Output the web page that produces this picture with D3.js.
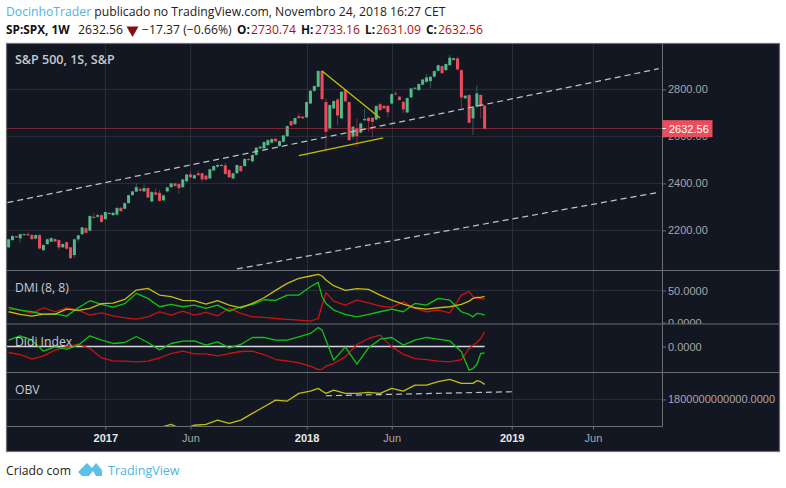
<!DOCTYPE html>
<html><head><meta charset="utf-8">
<script src="https://cdn.jsdelivr.net/npm/d3@7/dist/d3.min.js"></script>
<style>
html,body{margin:0;padding:0;background:#fff}
svg{display:block}
text{font-family:"Open Sans",sans-serif}
.ax text{font-family:"Liberation Sans",Arial,sans-serif;font-size:11px;fill:#a5a7ad}
</style></head><body><div id="c"></div>
<script>
const opens=[2128,2159,2175,2166,2182,2184,2180,2165,2180,2116,2142,2152,2163,2159,2128,2150,2128,2095,2162,2184,2209,2199,2258,2258,2265,2248,2271,2265,2267,2296,2292,2316,2350,2365,2376,2366,2380,2323,2362,2360,2328,2366,2384,2400,2397,2384,2409,2438,2421,2443,2443,2433,2421,2455,2471,2477,2477,2457,2421,2443,2474,2474,2504,2494,2521,2549,2549,2563,2573,2590,2559,2577,2601,2665,2652,2686,2684,2681,2740,2794,2811,2878,2746,2634,2719,2757,2677,2797,2746,2599,2634,2616,2669,2679,2679,2672,2737,2730,2730,2740,2783,2769,2747,2702,2766,2803,2797,2820,2832,2835,2854,2879,2899,2882,2903,2925,2932,2882,2762,2776,2677,2726,2776,2730.74];
const closes=[2162,2176,2170,2184,2184,2179,2163,2180,2123,2138,2162,2167,2153,2128,2142,2122,2082,2162,2179,2213,2190,2261,2253,2265,2236,2278,2274,2275,2295,2282,2316,2350,2366,2384,2369,2380,2340,2363,2352,2326,2349,2383,2400,2389,2380,2417,2438,2426,2435,2435,2417,2417,2460,2474,2478,2478,2440,2426,2443,2478,2452,2504,2499,2521,2552,2556,2576,2584,2589,2579,2580,2604,2644,2647,2678,2678,2677,2746,2794,2814,2878,2759,2620,2733,2750,2689,2790,2749,2584,2641,2601,2655,2674,2665,2662,2729,2712,2719,2703,2780,2780,2755,2715,2763,2804,2807,2823,2842,2851,2854,2878,2903,2869,2908,2935,2932,2885,2766,2773,2658,2723,2783,2733,2632.56];
const highs=[2165,2180,2178,2186,2187,2193,2186,2184,2184,2141,2165,2170,2168,2162,2145,2153,2131,2165,2182,2214,2213,2264,2275,2272,2270,2281,2278,2278,2300,2300,2319,2352,2368,2400,2385,2396,2384,2368,2379,2372,2352,2386,2403,2403,2402,2420,2441,2452,2439,2454,2446,2437,2463,2477,2485,2482,2489,2460,2446,2481,2477,2507,2508,2524,2555,2560,2579,2588,2592,2594,2583,2607,2647,2668,2680,2698,2687,2749,2797,2818,2882,2882,2762,2737,2754,2762,2793,2800,2749,2645,2676,2659,2719,2683,2683,2733,2742,2733,2734,2783,2793,2772,2750,2766,2807,2810,2826,2845,2865,2857,2881,2906,2902,2911,2946,2936,2939,2885,2777,2780,2727,2818,2780,2733.16];
const lows=[2125,2155,2168,2148,2178,2176,2160,2162,2119,2112,2138,2150,2150,2116,2125,2118,2077,2083,2150,2180,2187,2196,2250,2254,2233,2245,2268,2260,2262,2278,2290,2314,2348,2362,2366,2364,2336,2320,2348,2322,2325,2362,2380,2386,2357,2381,2405,2423,2418,2432,2406,2410,2418,2452,2468,2474,2437,2423,2418,2440,2449,2470,2496,2490,2518,2546,2546,2560,2570,2575,2556,2574,2598,2644,2649,2675,2674,2678,2737,2790,2808,2755,2535,2625,2715,2648,2674,2745,2580,2590,2556,2612,2665,2620,2596,2668,2708,2716,2681,2737,2776,2752,2698,2698,2762,2800,2793,2817,2829,2804,2851,2876,2866,2879,2900,2922,2882,2719,2758,2654,2606,2722,2677,2631.09];

const indicatorWeeks=[0,3,6,9,12,15,18,21,24,27,30,33,36,39,42,45,48,51,54,57,60,63,66,69,72,75,78,80,81,82,84,87,90,93,96,99,102,105,108,111,114,117,119,120,121,122,123];
const adx=[16.9,12.7,10.1,13.2,13.2,21,18.9,22,29.4,30.4,36.1,50.7,53.3,42.9,40.3,34.6,34.1,28.8,34.1,27.3,23.1,29.9,38.7,50.2,61.1,69,72.6,75.2,72.6,66.4,57.5,50.2,52.8,51.8,42.9,35.1,28.8,23.1,21,23.1,24.7,28.3,33.5,37.7,39.3,39.3,40.8];
const diPlus=[23.6,19.5,16.9,12.7,13.7,10.1,23.1,34.1,28.3,24.2,29.4,45.5,37.7,24.7,28.3,24.7,27.3,22.1,27.3,17.9,24.7,28.3,35.6,34.6,42.9,42.9,55.9,62.7,40.3,29.9,19.5,12.7,9,12.7,16.9,21,16.9,29.9,27.3,37.7,35.1,16.9,12.7,9,14.3,13.7,11.7];
const diMinus=[21,19.5,14.3,23.1,16.9,23.1,19.5,11.7,15.3,10.6,7.5,5.4,9,16.9,11.7,17.9,11.7,15.8,10.6,22.1,14.3,9,8,6.4,4.9,3.8,2.3,6.4,27.3,46.6,33.5,27.3,35.1,30.9,25.7,23.6,32.5,22,16.9,19.5,15.3,42.9,48.1,40.3,37.7,37.2,36.1];
const didiFast=[1.9,3.2,1.9,-1.4,-0.1,-0.8,0.4,3.2,1.9,0.9,1.2,3,1.2,-1,0.9,1.6,1.7,0.4,1.4,-0.4,0.6,2.7,2.7,1.9,1.9,2.9,3.9,5.7,4.9,1.9,-4.1,-0.1,-5.3,-0.4,2.2,2.7,0.4,1.9,2.7,2.2,1.7,-1.6,-7.1,-6.6,-5.4,-2.1,-1.9];
const didiSlow=[-1.8,-2.4,-3.8,-2.8,-1.1,-0.1,0.7,-0.6,-3.4,-4.3,-4.4,-4.6,-4.4,-3.4,-2.1,-1.4,-2.2,-2.2,-2.8,-2.1,-1.5,-1.4,-2.4,-3.9,-4.3,-4.9,-5.9,-6.9,-6.8,-5.9,-5.1,-3.1,0.6,2.4,3.4,-0.1,-2.3,-3.6,-3.9,-4.4,-4.6,-3.9,-0.6,0.4,1.2,2.4,4.4];
const obv=[1480,1470,1460,1500,1520,1530,1540,1560,1570,1590,1600,1610,1620,1630,1650,1620,1645,1650,1676,1656,1676,1716,1756,1796,1790,1836,1850,1866,1850,1836,1856,1836,1836,1842,1836,1866,1850,1886,1886,1906,1920,1896,1896,1896,1912,1906,1890];

const priceTicks=[2200,2400,2600,2800];
const timeTickWeeks=[25,47,77,99,130,151];
const timeTickLabels=["2017","Jun","2018","Jun","2019","Jun"];
const lastPrice=2632.56;
const channelUpper=[[-0.3,2318],[168,2888]];
const channelLower=[[59,2036],[168.3,2363]];
const wedgeTop=[[81,2878],[96,2678]];
const wedgeBottom=[[75,2518],[96.8,2594]];
const obvLevel=[[82,1822],[130.3,1846]];

const W=786,H=488;
const L=6.5,R=779.5,AX=662.5,T=43.5,B=451.5;
const pane={main:[T,270.5],dmi:[270.5,324],didi:[324,372.5],obv:[372.5,426.5]};
const BG="#131722",GRID="#2a2e39",FR="#6d6e72",UP="#53b987",DN="#eb4d5c";
const YEL="#c4bd12",GRN="#12c412",RED="#cc1212";

const svg=d3.select("#c").append("svg").attr("width",W).attr("height",H).attr("viewBox",`0 0 ${W} ${H}`);
const x=d3.scaleLinear().domain([0,123]).range([8.6,484.6]);
const yP=d3.scaleLinear().domain([2200,2800]).range([230.4,89.4]);
const yD=d3.scaleLinear().domain([0,50]).range([322.6,290.5]);
const yI=d3.scaleLinear().domain([0,5]).range([346.5,329.8]);
const yO=d3.scaleLinear().domain([1800,1920]).range([399.4,379.4]);

svg.append("rect").attr("x",L).attr("y",T).attr("width",R-L).attr("height",B-T).attr("fill",BG);

const defs=svg.append("defs");
Object.entries(pane).forEach(([k,v])=>{
  defs.append("clipPath").attr("id","clip-"+k).append("rect").attr("x",L).attr("y",v[0]).attr("width",AX-L).attr("height",v[1]-v[0]);
  defs.append("clipPath").attr("id","clipr-"+k).append("rect").attr("x",AX).attr("y",v[0]).attr("width",R-AX).attr("height",v[1]-v[0]);
});

// vertical grid
Object.values(pane).forEach(v=>{
  svg.append("g").selectAll("line").data(timeTickWeeks).join("line")
    .attr("x1",d=>Math.round(x(d))+.5).attr("x2",d=>Math.round(x(d))+.5).attr("y1",v[0]).attr("y2",v[1]).attr("stroke",GRID);
});
// horizontal grid
function hgrid(vals,scale){
  svg.append("g").selectAll("line").data(vals).join("line")
    .attr("x1",L).attr("x2",AX).attr("y1",d=>scale(d)).attr("y2",d=>scale(d)).attr("stroke",GRID).attr("stroke-width",1);
}
hgrid(priceTicks,yP);hgrid([50],yD);hgrid([1800],yO);

// candles
const main=svg.append("g").attr("clip-path","url(#clip-main)");
const col=i=>closes[i]>=opens[i]?UP:DN;
main.append("g").selectAll("line").data(d3.range(opens.length)).join("line")
  .attr("x1",i=>x(i)).attr("x2",i=>x(i)).attr("y1",i=>yP(highs[i])).attr("y2",i=>yP(lows[i]))
  .attr("stroke",col).attr("stroke-opacity",.45).attr("stroke-width",1);
main.append("g").selectAll("rect").data(d3.range(opens.length)).join("rect")
  .attr("x",i=>x(i)-1.5).attr("width",3)
  .attr("y",i=>yP(Math.max(opens[i],closes[i])))
  .attr("height",i=>Math.max(1,Math.abs(yP(opens[i])-yP(closes[i]))))
  .attr("fill",col);

// last price line
const lastY=Math.floor(yP(lastPrice))+.5;
main.append("line").attr("x1",L).attr("x2",AX).attr("y1",lastY).attr("y2",lastY)
  .attr("stroke","#e23445").attr("stroke-dasharray","1,1");

// trend lines
const seg=(g,pts,yS,stroke,dash,w)=>g.append("line")
  .attr("x1",x(pts[0][0])).attr("y1",yS(pts[0][1])).attr("x2",x(pts[1][0])).attr("y2",yS(pts[1][1]))
  .attr("stroke",stroke).attr("stroke-width",w).attr("stroke-dasharray",dash);
seg(main,channelUpper,yP,"#c0c2c8","6,4",1.25);
seg(main,channelLower,yP,"#c0c2c8","6,4",1.25);
seg(main,wedgeTop,yP,"#c8c000",null,1.3);
seg(main,wedgeBottom,yP,"#c8c000",null,1.3);

// indicators
function series(paneKey,vals,yS,stroke){
  const ln=d3.line().x((d,i)=>x(indicatorWeeks[i])).y(d=>yS(d));
  svg.append("path").attr("clip-path",`url(#clip-${paneKey})`).attr("d",ln(vals)).attr("fill","none")
    .attr("stroke",stroke).attr("stroke-width",1.3).attr("stroke-linejoin","round");
}
series("dmi",diMinus,yD,RED);
series("dmi",diPlus,yD,GRN);
series("dmi",adx,yD,YEL);
svg.append("line").attr("x1",L).attr("x2",x(123)).attr("y1",yI(0)).attr("y2",yI(0)).attr("stroke","#d8d8dc").attr("stroke-width",1.4);
series("didi",didiSlow,yI,RED);
series("didi",didiFast,yI,GRN);
series("obv",obv,yO,YEL);
seg(svg.append("g").attr("clip-path","url(#clip-obv)"),obvLevel,yO,"#c0c2c8","6,4",1.2);

// pane titles
const titles=[["S&P 500, 1S, S&P",64],["DMI (8, 8)",292],["Didi Index",346],["OBV",394]];
svg.append("g").selectAll("text").data(titles).join("text")
  .attr("x",15).attr("y",d=>d[1]).text(d=>d[0]).attr("fill","#c8cacf")
  .attr("font-size",d=>d[0][0]=="S"?12.5:12.2).attr("font-weight",d=>d[0][0]=="S"?600:400);

// price axes
function axisR(scale,vals,fmt,key){
  const a=d3.axisRight(scale).tickValues(vals).tickFormat(fmt).tickSize(3.5).tickPadding(2);
  const g=svg.append("g").attr("clip-path",`url(#clipr-${key})`)
    .append("g").attr("class","ax").attr("transform",`translate(${AX},0)`).call(a);
  g.select(".domain").remove();
  g.selectAll("line").attr("stroke",FR);
}
axisR(yP,priceTicks,d3.format(".2f"),"main");
axisR(yD,[0,50],d3.format(".4f"),"dmi");
axisR(yI,[0],d3.format(".4f"),"didi");
axisR(yO,[1800],v=>d3.format(".4f")(v*1e9),"obv");

// time axis
const ta=d3.axisBottom(x).tickValues(timeTickWeeks).tickFormat((d,i)=>timeTickLabels[i]).tickSize(3).tickPadding(5);
const tg=svg.append("g").attr("class","ax").attr("transform","translate(0,426.5)").call(ta);
tg.select(".domain").remove();
tg.selectAll("line").attr("stroke",FR);
tg.selectAll("text")
  .style("fill",(d,i)=>/^20/.test(timeTickLabels[i])?"#e8e8ea":"#a5a7ad")
  .attr("font-weight",(d,i)=>/^20/.test(timeTickLabels[i])?"bold":"normal");

// frame & separators
const fr=svg.append("g").attr("stroke",FR).attr("stroke-width",1).attr("fill","none");
fr.append("rect").attr("x",L).attr("y",T).attr("width",R-L).attr("height",B-T).attr("stroke-width",1.2);
[270.5,324,372.5].forEach(v=>fr.append("line").attr("x1",L).attr("x2",R).attr("y1",v).attr("y2",v));
fr.append("line").attr("x1",L).attr("x2",AX).attr("y1",426.5).attr("y2",426.5);
fr.append("line").attr("x1",AX).attr("x2",AX).attr("y1",T).attr("y2",426.5);

// last price tag
svg.append("rect").attr("x",AX).attr("y",yP(lastPrice)-8.6).attr("width",50).attr("height",17).attr("fill",DN);
svg.append("line").attr("x1",AX).attr("x2",AX+3.5).attr("y1",lastY).attr("y2",lastY).attr("stroke","#fff");
svg.append("text").attr("x",669).attr("y",yP(lastPrice)+4).text(d3.format(".2f")(lastPrice))
  .attr("fill","#fff").attr("font-size",11).style("font-family","'Liberation Sans',sans-serif");

// header
const h1=svg.append("text").attr("x",6).attr("y",16).attr("font-size",12.2);
h1.append("tspan").attr("fill","#4db4e6").text("DocinhoTrader");
h1.append("tspan").attr("fill","#222").text(" publicado no TradingView.com, Novembro 24, 2018 16:27 CET");
const row=[["SP:SPX, 1W",6,"#111",700],["2632.56",78,"#222",400],["−17.37 (−0.66%)",142,"#222",400],
 ["O:",237,"#111",700],["2730.74",251,"#b01010",400],["H:",301,"#111",700],["2733.16",315,"#b01010",400],
 ["L:",365,"#111",700],["2631.09",376,"#b01010",400],["C:",426,"#111",700],["2632.56",438,"#b01010",400]];
svg.append("g").selectAll("text").data(row).join("text").attr("x",d=>d[1]).attr("y",34)
  .attr("font-size",d=>d[3]==700?11.8:12.2).attr("fill",d=>d[2]).attr("font-weight",d=>d[3]).text(d=>d[0]);
svg.append("path").attr("d",d3.symbol(d3.symbolTriangle,62)()).attr("transform","translate(132.5,30) rotate(180)").attr("fill","#8a0d0d");

// footer
svg.append("text").attr("x",6).attr("y",475).attr("font-size",12.2).attr("fill","#222").text("Criado com");
svg.append("path").attr("d","M78 472 L87 463 L92 468 L96 463 L102 470 L102 476 L96 476 L93 471 L89 476 L82 476 Z").attr("fill","#5cc0e8");
svg.append("text").attr("x",108).attr("y",475).attr("font-size",12.5).attr("fill","#4db4e6").text("TradingView");
</script></body></html>
